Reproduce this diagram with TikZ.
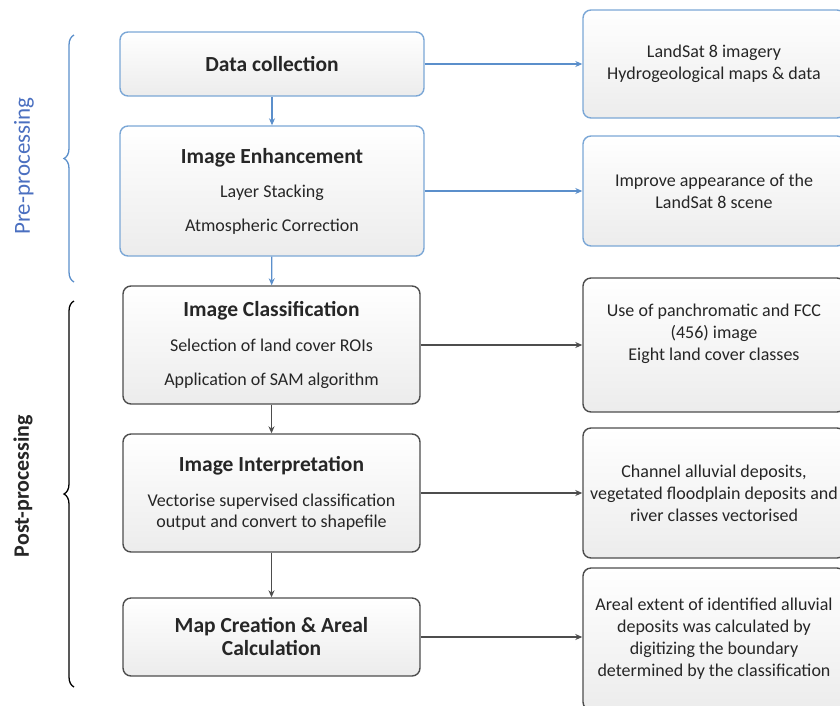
\documentclass[tikz,border=0pt]{standalone}
\usepackage{fontspec}
\setmainfont{Carlito}
\usetikzlibrary{arrows.meta,decorations.pathreplacing}
\definecolor{preline}{HTML}{7BA7D6}
\definecolor{prearrow}{HTML}{5B8FCB}
\definecolor{pretext}{HTML}{4A6FC0}
\definecolor{postline}{HTML}{4D4D4D}
\definecolor{boxbottom}{HTML}{ECECEC}
\colorlet{boxtext}{black!85}
\tikzset{
  every flow box/.style={rounded corners=8pt,line width=1.4pt,top color=white,bottom color=boxbottom,
    align=center,text=boxtext,font=\fontsize{18}{21}\selectfont},
  pre box/.style={every flow box,draw=preline},
  post box/.style={every flow box,draw=postline},
  note box/.style={every flow box,font=\fontsize{18}{22}\selectfont,minimum width=262pt},
  pre arrow/.style={draw=prearrow,line width=1.2pt,-{Stealth[length=7pt,width=6pt]}},
  post arrow/.style={draw=postline,line width=1.2pt,-{Stealth[length=7pt,width=6pt]}},
  group brace/.style={decorate,decoration={brace,amplitude=10pt},line width=1.3pt},
}
\newcommand{\boxtitle}[1]{{\bfseries\fontsize{21.5}{23}\selectfont #1}}

\begin{document}
\begin{tikzpicture}[x=1pt,y=-1pt]
\useasboundingbox (0,0) rectangle (840,705);
\clip (0,0) rectangle (840,705);
\node[pre box,minimum width=304pt,minimum height=64pt] (collect) at (272,64) {\boxtitle{Data collection}};
\node[pre box,minimum width=304pt,minimum height=130pt] (enhance) at (272,191)
  {\boxtitle{Image Enhancement}\\[13pt]Layer Stacking\\[13pt]Atmospheric Correction};
\node[post box,minimum width=297pt,minimum height=118pt] (classify) at (271.5,345)
  {\boxtitle{Image Classification}\\[14pt]Selection of land cover ROIs\\[13pt]Application of SAM algorithm};
\node[post box,minimum width=297pt,minimum height=118pt] (interpret) at (271.5,493)
  {\boxtitle{Image Interpretation}\\[14pt]Vectorise supervised classification\\output and convert to shapefile};
\node[post box,minimum width=297pt,minimum height=78pt] (mapcalc) at (271.5,637)
  {\boxtitle{Map Creation \& Areal}\\[2pt]\boxtitle{Calculation}};
\node[note box,draw=preline,minimum height=108pt] (landsat) at (714,64)
  {LandSat 8 imagery\\Hydrogeological maps \& data};
\node[note box,draw=preline,minimum height=110pt] (improve) at (714,191)
  {Improve appearance of the\\LandSat 8 scene};
\node[note box,draw=postline,minimum height=134pt] (panchro) at (714,345) {};
\node[align=center,text=boxtext,font=\fontsize{18}{22}\selectfont] (panchrotext) at (714,334)
  {Use of panchromatic and FCC\\(456) image\\Eight land cover classes};
\node[note box,draw=postline,minimum height=130pt] (channel) at (714,493)
  {Channel alluvial deposits,\\vegetated floodplain deposits and\\river classes vectorised};
\node[note box,draw=postline,minimum height=142pt] (areal) at (714,639)
  {Areal extent of identified alluvial\\deposits was calculated by\\digitizing the boundary\\determined by the classification};
\draw[pre arrow] (collect) -- (enhance);
\draw[pre arrow] (enhance) -- (classify);
\draw[post arrow] (classify) -- (interpret);
\draw[post arrow] (interpret) -- (mapcalc);
\draw[pre arrow] (collect.east) -- (landsat.west);
\draw[pre arrow] (enhance.east) -- (improve.west);
\draw[post arrow] (classify.east) -- (panchro.west);
\draw[post arrow] (interpret.east) -- (channel.west);
\draw[post arrow] (mapcalc.east) -- (mapcalc.east -| areal.west);
\coordinate (pretop) at (74,35);
\coordinate (prebottom) at (74,282);
\coordinate (posttop) at (74,301);
\coordinate (postbottom) at (74,687);
\draw[group brace,draw=prearrow] (prebottom) -- (pretop);
\draw[group brace,draw=black] (postbottom) -- (posttop);
\node[rotate=90,text=pretext,font=\fontsize{23}{26}\selectfont] (prelabel) at (24,166) {Pre-processing};
\node[rotate=90,text=boxtext,font=\bfseries\fontsize{22}{26}\selectfont] (postlabel) at (23,486) {Post-processing};
\end{tikzpicture}
\end{document}
